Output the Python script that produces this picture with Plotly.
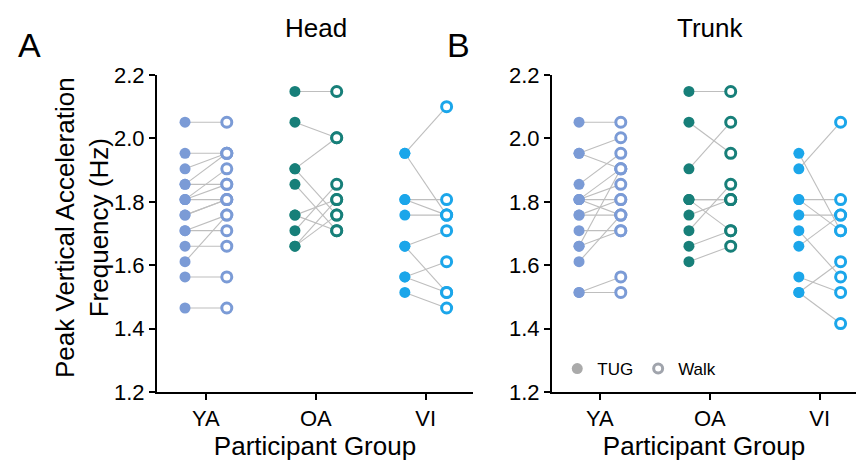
import plotly.graph_objects as go

groups = ["YA", "OA", "VI"]
y_ticks = [1.2, 1.4, 1.6, 1.8, 2.0, 2.2]
y_tick_labels = ["1.2", "1.4", "1.6", "1.8", "2.0", "2.2"]

# Paired values (TUG -> Walk) per participant, Hz
head_ya_tug = [2.051, 1.953, 1.904, 1.855, 1.855, 1.807, 1.807, 1.807, 1.758, 1.758, 1.709, 1.709, 1.660, 1.611, 1.563, 1.465]
head_ya_walk = [2.051, 1.953, 1.953, 1.953, 1.855, 1.904, 1.855, 1.807, 1.807, 1.807, 1.758, 1.709, 1.660, 1.758, 1.563, 1.465]
head_oa_tug = [2.148, 2.051, 1.904, 1.904, 1.855, 1.758, 1.758, 1.709, 1.660, 1.660]
head_oa_walk = [2.148, 2.002, 2.002, 1.758, 1.709, 1.807, 1.709, 1.855, 1.807, 1.758]
head_vi_tug = [1.953, 1.953, 1.807, 1.807, 1.758, 1.660, 1.660, 1.563, 1.563, 1.514]
head_vi_walk = [2.100, 1.758, 1.807, 1.758, 1.758, 1.709, 1.514, 1.611, 1.514, 1.465]

trunk_ya_tug = [2.051, 1.953, 1.953, 1.855, 1.807, 1.807, 1.807, 1.807, 1.758, 1.758, 1.709, 1.660, 1.660, 1.611, 1.514, 1.514]
trunk_ya_walk = [2.051, 2.002, 1.904, 1.953, 1.904, 1.855, 1.807, 1.758, 1.807, 1.758, 1.709, 1.904, 1.709, 1.758, 1.563, 1.514]
trunk_oa_tug = [2.148, 2.051, 1.904, 1.807, 1.807, 1.807, 1.758, 1.709, 1.660, 1.611]
trunk_oa_walk = [2.148, 1.953, 2.051, 1.807, 1.807, 1.709, 1.807, 1.855, 1.709, 1.660]
trunk_vi_tug = [1.904, 1.953, 1.807, 1.807, 1.758, 1.709, 1.660, 1.563, 1.514, 1.514]
trunk_vi_walk = [2.051, 1.709, 1.807, 1.709, 1.758, 1.563, 1.758, 1.514, 1.611, 1.416]

colors = {"YA": "#7B9BD6", "OA": "#177F79", "VI": "#1BA6EA"}
OFF = 0.19
FONT = "Liberation Sans, Arial, sans-serif"
W, H = 856, 461

panels = [
    ("x", "y", {"YA": (head_ya_tug, head_ya_walk), "OA": (head_oa_tug, head_oa_walk), "VI": (head_vi_tug, head_vi_walk)}),
    ("x2", "y2", {"YA": (trunk_ya_tug, trunk_ya_walk), "OA": (trunk_oa_tug, trunk_oa_walk), "VI": (trunk_vi_tug, trunk_vi_walk)}),
]

fig = go.Figure()
for xa, ya, data in panels:
    lx, ly = [], []
    for gi, g in enumerate(groups):
        tug, walk = data[g]
        for a, b in zip(tug, walk):
            lx += [gi - OFF, gi + OFF, None]
            ly += [a, b, None]
    fig.add_trace(go.Scatter(x=lx, y=ly, mode="lines", xaxis=xa, yaxis=ya,
                             line=dict(color="#BEBEBE", width=1.1), showlegend=False, hoverinfo="skip"))
    for gi, g in enumerate(groups):
        tug, walk = data[g]
        fig.add_trace(go.Scatter(x=[gi - OFF] * len(tug), y=tug, mode="markers", xaxis=xa, yaxis=ya,
                                 marker=dict(color=colors[g], size=11, line=dict(width=0)), showlegend=False))
        fig.add_trace(go.Scatter(x=[gi + OFF] * len(walk), y=walk, mode="markers", xaxis=xa, yaxis=ya,
                                 marker=dict(color="white", size=10, line=dict(color=colors[g], width=3)), showlegend=False))

# legend entries
fig.add_trace(go.Scatter(x=[None], y=[None], mode="markers", name="TUG", xaxis="x2", yaxis="y2",
                         marker=dict(color="#AAAAAA", size=11)))
fig.add_trace(go.Scatter(x=[None], y=[None], mode="markers", name="Walk", xaxis="x2", yaxis="y2",
                         marker=dict(color="white", size=9, line=dict(color="#A0A4AC", width=3))))

axis_common = dict(showline=True, linecolor="black", linewidth=2, ticks="outside", ticklen=6,
                   tickwidth=2, tickcolor="black", showgrid=False, zeroline=False, automargin=False,
                   tickfont=dict(size=22, color="black", family=FONT))
yax = dict(axis_common, range=[1.2, 2.2], tickvals=y_ticks, ticktext=y_tick_labels)
xax = dict(axis_common, tickvals=[0, 1, 2], ticktext=groups,
           title=dict(text="Participant Group", font=dict(size=26, color="black", family=FONT), standoff=4))

fig.update_layout(
    template="none",
    width=W, height=H, autosize=False,
    margin=dict(l=0, r=0, t=0, b=0, pad=0),
    paper_bgcolor="white", plot_bgcolor="white",
    font=dict(family=FONT, color="black"),
    xaxis=dict(xax, domain=[157 / W, 473 / W], range=[-0.445, 2.43], anchor="y"),
    yaxis=dict(yax, domain=[1 - 392 / H, 1 - 75 / H], anchor="x"),
    xaxis2=dict(xax, domain=[552 / W, 1.0], range=[-0.436, 2.33], anchor="y2"),
    yaxis2=dict(yax, domain=[1 - 392 / H, 1 - 75 / H], anchor="x2"),
    showlegend=True,
    legend=dict(orientation="h", x=0.651, y=1 - 369 / H, xanchor="left", yanchor="middle",
                font=dict(size=17, color="black", family=FONT), itemwidth=30,
                bgcolor="rgba(0,0,0,0)", borderwidth=0, tracegroupgap=0),
)

labels = [("A", 30, 45, 34, 0), ("B", 458, 45, 34, 0), ("Head", 316, 28, 26, 0), ("Trunk", 710, 28, 26, 0),
          ("Peak Vertical Acceleration<br>Frequency (Hz)", 82, 228, 26, -90)]
fig.update_layout(annotations=[
    dict(text=t, x=x / W, y=1 - y / H, xref="paper", yref="paper", showarrow=False, textangle=a,
         xanchor="center", yanchor="middle", font=dict(size=s, color="black", family=FONT))
    for t, x, y, s, a in labels
])

fig.write_html("out.html", config={"displayModeBar": False},
               post_script="document.body.style.margin='0';document.body.style.overflow='hidden';")
